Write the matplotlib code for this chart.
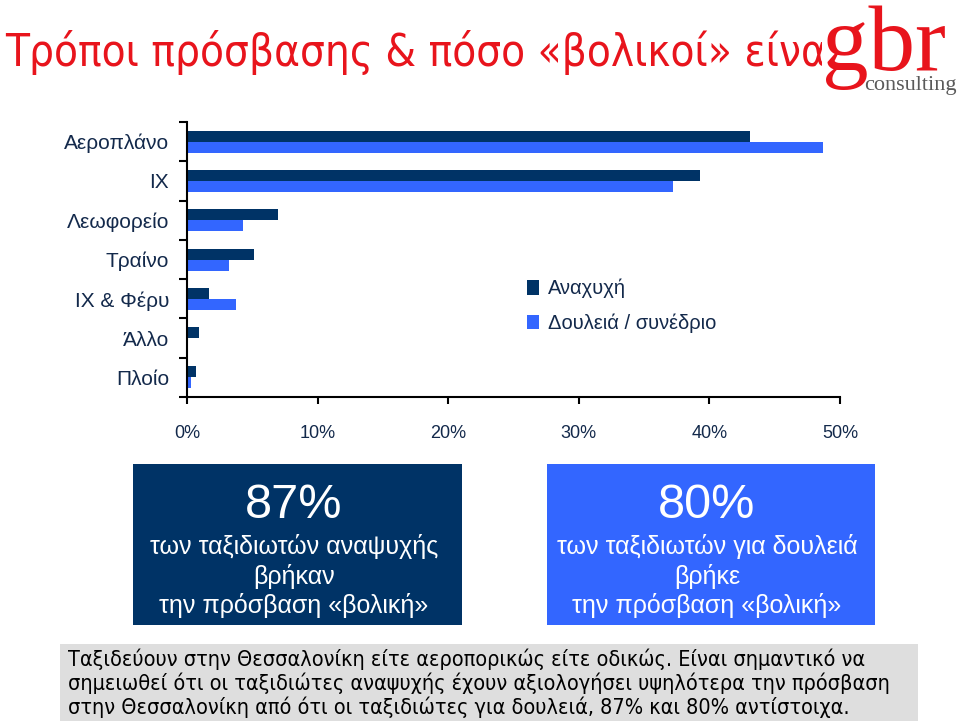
import matplotlib
matplotlib.use("Agg")
import matplotlib.pyplot as plt
import numpy as np
from matplotlib.patches import Rectangle

# ---- data ----
categories = ["Αεροπλάνο", "ΙΧ", "Λεωφορείο", "Τραίνο", "ΙΧ & Φέρυ", "Άλλο", "Πλοίο"]
leisure = [43.1, 39.3, 7.0, 5.1, 1.7, 0.9, 0.7]      # Αναχυχή
business = [48.7, 37.2, 4.3, 3.2, 3.75, 0.0, 0.3]    # Δουλειά / συνέδριο
series_names = ["Αναχυχή", "Δουλειά / συνέδριο"]
xticks = [0, 10, 20, 30, 40, 50]
xtick_labels = ["0%", "10%", "20%", "30%", "40%", "50%"]

title = "Τρόποι πρόσβασης & πόσο «βολικοί» είναι"
box1 = ["87%", "των ταξιδιωτών αναψυχής", "βρήκαν", "την πρόσβαση «βολική»"]
box2 = ["80%", "των ταξιδιωτών για δουλειά", "βρήκε", "την πρόσβαση «βολική»"]
note = ["Ταξιδεύουν στην Θεσσαλονίκη είτε αεροπορικώς είτε οδικώς. Είναι σημαντικό να",
        "σημειωθεί ότι οι ταξιδιώτες αναψυχής έχουν αξιολογήσει υψηλότερα την πρόσβαση",
        "στην Θεσσαλονίκη από ότι οι ταξιδιώτες για δουλειά, 87% και 80% αντίστοιχα."]

DARK = "#003366"
LIGHT = "#3366FF"
NAVY_TXT = "#13294B"
RED = "#E8141C"

W, H = 960, 723
fig = plt.figure(figsize=(W / 100, H / 100), dpi=100)
fig.patch.set_facecolor("white")


def fx(x):
    return x / W


def fy(y):
    return 1 - y / H


# ---- chart axes ----
x0, x1, y0, y1 = 187, 840, 122, 397
ax = fig.add_axes([fx(x0), fy(y1), fx(x1) - fx(x0), (y1 - y0) / H])
n = len(categories)
pos = np.arange(n)[::-1]
bh = 0.28
ax.barh(pos + bh / 2, leisure, height=bh, color=DARK, label=series_names[0])
ax.barh(pos - bh / 2, business, height=bh, color=LIGHT, label=series_names[1])
ax.set_xlim(0, 50)
ax.set_ylim(-0.5, n - 0.5)
for s in ["top", "right"]:
    ax.spines[s].set_visible(False)
for s in ["left", "bottom"]:
    ax.spines[s].set_linewidth(1.5)
    ax.spines[s].set_color("black")
ax.set_xticks(xticks)
ax.set_xticklabels(xtick_labels, fontsize=13, color=NAVY_TXT, family="Liberation Sans")
ax.tick_params(axis="x", direction="out", length=5, width=1.5, pad=15)
ax.set_yticks(np.arange(n + 1) - 0.5)
ax.set_yticklabels([])
ax.tick_params(axis="y", which="major", direction="out", length=6, width=1.5)
ax.set_yticks(pos, minor=True)
ax.set_yticklabels(categories, minor=True, fontsize=15, color=NAVY_TXT, family="Liberation Sans")
ax.tick_params(axis="y", which="minor", length=0, pad=13)

leg = ax.legend(loc="center left", bbox_to_anchor=(fx(509), fy(306)), bbox_transform=fig.transFigure,
                frameon=False, handlelength=0.6, handleheight=0.75, handletextpad=0.45,
                labelspacing=0.75, prop={"family": "Liberation Sans", "size": 14.5})
for t in leg.get_texts():
    t.set_color(NAVY_TXT)

# ---- title & logo ----
fig.text(fx(5), fy(66), title, color=RED, fontsize=31.5, family="DejaVu Sans",
         fontstretch="condensed", va="baseline", ha="left")
fig.add_artist(Rectangle((fx(822), fy(100)), fx(960) - fx(822), 100 / H,
                         transform=fig.transFigure, facecolor="white", edgecolor="none", zorder=5))
fig.text(fx(822), fy(70), "gbr", color=RED, fontsize=67, family="Liberation Serif",
         va="baseline", ha="left", zorder=6)
fig.text(fx(864), fy(90), "consulting", color="#5a5a5a", fontsize=16, family="Liberation Serif",
         va="baseline", ha="left", zorder=7)

# ---- summary boxes ----
def box(xl, xr, color, lines, cx):
    fig.add_artist(Rectangle((fx(xl), fy(625)), fx(xr) - fx(xl), (625 - 464) / H,
                             transform=fig.transFigure, facecolor=color, edgecolor="none"))
    fig.text(fx(cx), fy(518), lines[0], color="white", fontsize=35, family="Liberation Sans",
             ha="center", va="baseline")
    for line, yb in zip(lines[1:], [554, 584, 613]):
        fig.text(fx(cx), fy(yb), line, color="white", fontsize=18, family="Liberation Sans",
                 ha="center", va="baseline")


box(133, 462, DARK, box1, 294)
box(547, 875, LIGHT, box2, 707)

# ---- note ----
fig.add_artist(Rectangle((fx(60), fy(721)), fx(918) - fx(60), (721 - 644) / H,
                         transform=fig.transFigure, facecolor="#DEDEDE", edgecolor="none"))
for line, yb in zip(note, [666, 690, 714]):
    fig.text(fx(68), fy(yb), line, color="black", fontsize=15.5, family="DejaVu Sans",
             fontstretch="condensed", ha="left", va="baseline")

fig.savefig("out.png", dpi=100)
